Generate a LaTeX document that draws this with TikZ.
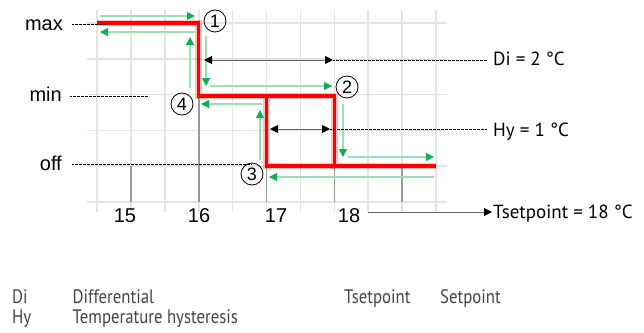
\documentclass[tikz,border=0pt]{standalone}
\usepackage{fontspec}
\setmainfont{Liberation Sans}
\newfontfamily\ptsans{PT Sans}
\newfontfamily\legf[FakeStretch=0.86]{PT Sans}
\usetikzlibrary{arrows.meta}
\definecolor{gline}{HTML}{9ADFB5}
\definecolor{ghead}{HTML}{10B050}
\definecolor{gridc}{HTML}{E4E4E4}
\definecolor{tickc}{HTML}{9A9A9A}
\definecolor{legc}{HTML}{444444}
\tikzset{
  gridline/.style={draw=gridc, line width=1.6pt},
  tickline/.style={draw=tickc, line width=1.6pt},
  redline/.style={draw=red, line width=3.2pt, line join=miter},
  redglow/.style={draw=red, opacity=0.25, line width=6.5pt, line join=miter},
  garrow/.style={draw=gline, line width=1.1pt, -{Triangle[length=8pt,width=8pt,color=ghead]}},
  barrow/.style={draw=black!60, line width=1pt, {Triangle[length=8pt,width=8pt,color=black]}-{Triangle[length=8pt,width=8pt,color=black]}},
  sarrow/.style={draw=black!60, line width=0.8pt, -{Triangle[length=8pt,width=8pt,color=black]}},
  dashdot/.style={draw=black, line width=0.5pt, dash pattern=on 1.5pt off 1pt on 0.5pt off 1pt},
  lvl/.style={font=\fontsize{20}{22}\selectfont, anchor=base east, inner sep=0pt},
  xlab/.style={font=\fontsize{20}{22}\selectfont, anchor=base, inner sep=0pt},
  rlab/.style={font=\ptsans\fontsize{19}{21}\selectfont, anchor=base west, inner sep=0pt},
  leg/.style={font=\legf\fontsize{19.5}{22}\selectfont, text=legc, anchor=base west, inner sep=0pt},
  cnum/.style={draw=black, line width=0.8pt, circle, minimum size=22pt, inner sep=0pt, font=\fontsize{18}{18}\selectfont},
}
\begin{document}
\begin{tikzpicture}[x=1pt, y=-1pt]
\useasboundingbox (0,0) rectangle (644,332);
\fill[white] (0,0) rectangle (644,332);
% grid
\foreach \i in {0,...,10} {
  \coordinate (vt\i) at ({97+33.9*\i},10);
  \coordinate (vb\i) at ({97+33.9*\i},212);
  \draw[gridline] (vt\i) -- (vb\i);
}
\foreach \j in {0,...,5} {
  \coordinate (hl\j) at (87,{23+35.8*\j});
  \coordinate (hr\j) at (447,{23+35.8*\j});
  \draw[gridline] (hl\j) -- (hr\j);
}
% darker ticks
\coordinate (t15a) at (130.9,166); \coordinate (t15b) at (130.9,202);
\coordinate (t16a) at (198.7,96);  \coordinate (t16b) at (198.7,202);
\coordinate (t17a) at (266.5,166); \coordinate (t17b) at (266.5,202);
\coordinate (t18a) at (334.3,166); \coordinate (t18b) at (334.3,202);
\coordinate (t19a) at (402.1,166); \coordinate (t19b) at (402.1,202);
\foreach \t in {15,16,17,18,19} \draw[tickline] (t\t a) -- (t\t b);
% red characteristic
\coordinate (r0) at (97,23);
\coordinate (r1) at (198.7,23);
\coordinate (r2) at (198.7,96);
\coordinate (r3) at (334.3,96);
\coordinate (r4) at (334.3,166);
\coordinate (r5) at (436,166);
\coordinate (r6) at (266.5,96);
\coordinate (r7) at (266.5,166);
\foreach \s in {redglow,redline} {
  \draw[\s] (r0) -- (r1) -- (r2) -- (r3) -- (r4) -- (r5);
  \draw[\s] (r6) -- (r7) -- (r4);
}
% green arrows
\coordinate (g1a) at (100,16);  \coordinate (g1b) at (195,16);
\coordinate (g2a) at (195,32);  \coordinate (g2b) at (100,32);
\coordinate (g3a) at (190,88);  \coordinate (g3b) at (190,37);
\coordinate (g4a) at (206,36);  \coordinate (g4b) at (206,86);
\coordinate (g5a) at (210,86);  \coordinate (g5b) at (332,86);
\coordinate (g6a) at (262,104); \coordinate (g6b) at (201,104);
\coordinate (g7a) at (260,160); \coordinate (g7b) at (260,110);
\coordinate (g8a) at (343,104); \coordinate (g8b) at (343,157);
\coordinate (g9a) at (348,157); \coordinate (g9b) at (434,157);
\coordinate (g10a) at (434,177); \coordinate (g10b) at (269,177);
\foreach \g in {1,...,10} \draw[garrow] (g\g a) -- (g\g b);
% circled numbers
\node[cnum] (n1) at (215,21) {1};
\node[cnum] (n2) at (347,87) {2};
\node[cnum] (n3) at (252,174) {3};
\node[cnum] (n4) at (182,104) {4};
% Di and Hy
\coordinate (dia) at (204,60); \coordinate (dib) at (333,60); \coordinate (dic) at (487,60);
\node[rlab] (dil) at (493,65) {Di = 2 °C};
\draw[barrow] (dia) -- (dib);
\draw[dashdot] (dib) -- (dic);
\coordinate (hya) at (270,129); \coordinate (hyb) at (330,129); \coordinate (hyc) at (487,129);
\node[rlab] (hyl) at (493,136) {Hy = 1 °C};
\draw[barrow] (hya) -- (hyb);
\draw[dashdot] (hyb) -- (hyc);
% levels
\node[lvl] (max) at (63,30.5) {max};
\node[lvl] (min) at (62,101.5) {min};
\node[lvl] (off) at (62,170) {off};
\coordinate (maxs) at (72,24); \coordinate (maxe) at (106,24);
\coordinate (mins) at (70,96); \coordinate (mine) at (148,96);
\coordinate (offs) at (72,164); \coordinate (offe) at (252,164);
\draw[dashdot] (maxs) -- (maxe);
\draw[dashdot] (mins) -- (mine);
\draw[dashdot] (offs) -- (offe);
% x labels
\node[xlab] (x15) at (125,222) {15};
\node[xlab] (x16) at (199,222) {16};
\node[xlab] (x17) at (276,222) {17};
\node[xlab] (x18) at (349,222) {18};
% setpoint
\coordinate (spa) at (368,212); \coordinate (spb) at (492,212);
\node[rlab] (spl) at (493,218.5) {Tsetpoint = 18 °C};
\draw[sarrow] (spa) -- (spb);
% legend
\node[leg] (l1) at (12,303) {Di};
\node[leg] (l2) at (72.5,303) {Differential};
\node[leg] (l3) at (12,323.5) {Hy};
\node[leg] (l4) at (72.5,323.5) {Temperature hysteresis};
\node[leg] (l5) at (344,303) {Tsetpoint};
\node[leg] (l6) at (440,303) {Setpoint};
\end{tikzpicture}
\end{document}
